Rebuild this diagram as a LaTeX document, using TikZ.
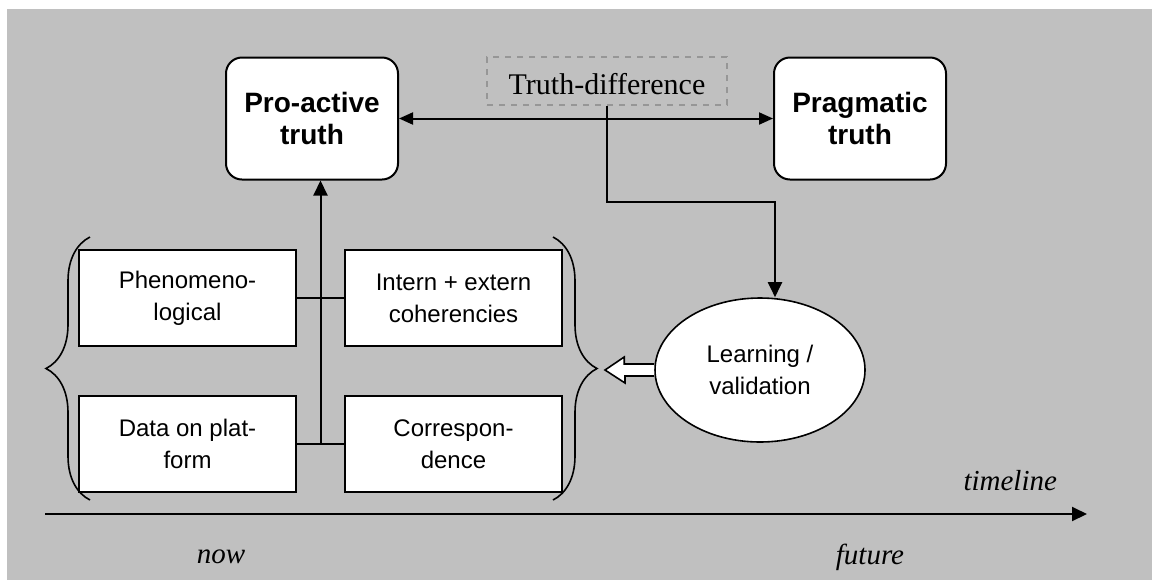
\documentclass[tikz,border=0pt]{standalone}
\usepackage{fontspec}
\setmainfont{Liberation Serif}
\setsansfont{Liberation Sans}
\usetikzlibrary{arrows.meta, positioning, shapes, shapes.geometric, calc, decorations.pathreplacing}
\definecolor{bgGray}{RGB}{192,192,192}
\definecolor{dashGray}{RGB}{150,150,150}

\begin{document}
\begin{tikzpicture}[
    x=0.5pt, y=-0.5pt,
    truth/.style = {
        draw,
        line width=1pt,
        fill=white,
        rounded corners=8pt,
        minimum width=86pt,
        minimum height=61pt,
        align=center,
        font=\sffamily\bfseries\fontsize{14}{16}\selectfont,
    },
    aspect/.style = {
        draw,
        line width=1pt,
        fill=white,
        minimum width=108.5pt,
        minimum height=48pt,
        align=center,
        font=\sffamily\fontsize{12}{16}\selectfont,
    },
    learning/.style = {
        draw,
        line width=0.8pt,
        fill=white,
        ellipse,
        minimum width=105pt,
        minimum height=72pt,
        align=center,
        font=\sffamily\fontsize{12}{16}\selectfont,
    },
    difference/.style = {
        draw=dashGray,
        dashed,
        line width=0.6pt,
        minimum width=120pt,
        minimum height=24pt,
        text height=13pt,
        text depth=0pt,
        font=\fontsize{15}{17}\selectfont,
    },
    timeLabel/.style = {
        font=\itshape\fontsize{14.5}{16}\selectfont,
    },
    has/.style = {
        line width=1pt,
        -{Triangle[length=7.5pt, width=7pt]},
    },
    both/.style = {
        line width=1pt,
        {Triangle[length=7pt, width=6pt]}-{Triangle[length=7pt, width=6pt]},
    },
    link/.style = {
        line width=1pt,
    },
    curly/.style = {
        line width=0.8pt,
        decorate,
        decoration={brace, amplitude=22pt},
    },
    hollowArrow/.style = {
        line width=0.8pt,
        fill=white,
    },
    node distance=24pt and 23.5pt,
]

% frame and background
\useasboundingbox (0,0) rectangle (1152,580);
\fill[bgGray] (7,9) rectangle (1152,580);

% the two truths
\node[truth] (Pro-active) at (312,118.5) {Pro-active\\truth};
\node[truth] (Pragmatic) at (860,118.5) {Pragmatic\\truth};
\node[difference] (Truth-difference) at (607,81) {Truth-difference};
\draw[both] (Pro-active) -- (Pragmatic);

% the four aspects
\node[aspect] (Phenomenological) at (187.5,298) {Phenomeno-\\logical};
\node[aspect, right=of Phenomenological] (Coherencies) {Intern + extern\\coherencies};
\node[aspect, below=of Phenomenological] (Data) {Data on plat-\\form};
\node[aspect, right=of Data] (Correspondence) {Correspon-\\dence};

\draw[link] (Phenomenological) -- (Coherencies);
\draw[link] (Data) -- (Correspondence);
\coordinate (spine) at ($(Data.east)!0.5!(Correspondence.west)$);
\draw[has] (spine) -- (spine |- Pro-active.south);

% braces
\draw[curly] (90,500) -- (90,237);
\draw[curly] (553,237) -- (553,500);

% learning
\node[learning] (Learning) at (760,370) {Learning /\\validation};
\coordinate (bend) at (775,202);
\draw[has] (Truth-difference.south) |- (bend) -- (bend |- Learning.north);

\coordinate (hollowTip) at (605,370);
\draw[hollowArrow] ($(Learning.west)+(0,-6)$) -- ++(-30,0) -- ++(0,-7)
    -- (hollowTip) -- ++(20,13) -- ++(0,-7) -- ($(Learning.west)+(0,6)$);

% timeline
\coordinate (timeStart) at (45,514);
\coordinate (timeEnd) at (1087,514);
\draw[has] (timeStart) -- (timeEnd);
\node[timeLabel, anchor=south east] (timeline) at (1064,498) {timeline};
\node[timeLabel] (now) at (221,557) {now};
\node[timeLabel] (future) at (870,557) {future};

\end{tikzpicture}
\end{document}
